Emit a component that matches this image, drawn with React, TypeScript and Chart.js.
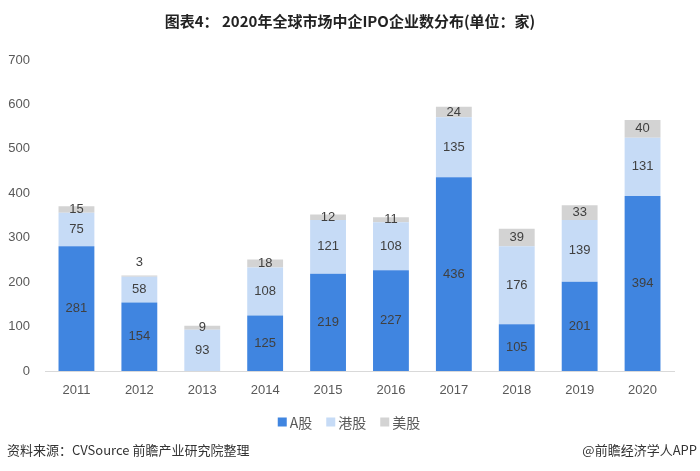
import React, { useEffect, useRef } from "react";
import { Chart, registerables } from "chart.js";

Chart.register(...registerables);

const years = ["2011", "2012", "2013", "2014", "2015", "2016", "2017", "2018", "2019", "2020"];
const aShares = [281, 154, 0, 125, 219, 227, 436, 105, 201, 394];
const hkShares = [75, 58, 93, 108, 121, 108, 135, 176, 139, 131];
const usShares = [15, 3, 9, 18, 12, 11, 24, 39, 33, 40];
const seriesNames = ["A股", "港股", "美股"];
const yTicks = [0, 100, 200, 300, 400, 500, 600, 700];

const titleText = "图表4： 2020年全球市场中企IPO企业数分布(单位：家)";
const sourceText = "资料来源：CVSource 前瞻产业研究院整理";
const brandText = "@前瞻经济学人APP";

const colors = ["#4085e0", "#c6dbf6", "#d3d3d3"];
const FONT = "'Liberation Sans', 'Noto Sans CJK SC', sans-serif";
const CJK = "'Noto Sans CJK SC', 'Liberation Sans', sans-serif";

const decorPlugin = {
  id: "decor",
  afterDatasetsDraw(chart: any) {
    const ctx = chart.ctx;
    // value labels
    ctx.save();
    ctx.font = `13px ${FONT}`;
    ctx.fillStyle = "#404040";
    ctx.textAlign = "center";
    ctx.textBaseline = "middle";
    chart.data.datasets.forEach((ds: any, di: number) => {
      const meta = chart.getDatasetMeta(di);
      meta.data.forEach((bar: any, i: number) => {
        const v = ds.data[i];
        if (!v) return;
        const top = bar.y;
        const bottom = bar.base;
        let y = (top + bottom) / 2;
        if (v < 5) y = top - 13;
        ctx.fillText(String(v), bar.x, y);
      });
    });
    ctx.restore();
  },
  afterDraw(chart: any) {
    const ctx = chart.ctx;
    const W = chart.width;
    ctx.save();
    // title
    ctx.font = `bold 15px ${CJK}`;
    ctx.fillStyle = "#222222";
    ctx.textAlign = "center";
    ctx.textBaseline = "middle";
    ctx.fillText(titleText, 350, 21);
    // legend
    ctx.font = `14px ${CJK}`;
    ctx.textAlign = "left";
    const box = 9;
    const gap = 3;
    const itemGap = 14;
    const widths = seriesNames.map((n) => box + gap + ctx.measureText(n).width);
    const total = widths.reduce((a, b) => a + b, 0) + itemGap * (seriesNames.length - 1);
    let x = 349 - total / 2;
    const ly = 422;
    seriesNames.forEach((n, i) => {
      ctx.fillStyle = colors[i];
      ctx.fillRect(x, ly - box / 2, box, box);
      ctx.fillStyle = "#595959";
      ctx.fillText(n, x + box + gap, ly + 1);
      x += widths[i] + itemGap;
    });
    // footer
    ctx.font = `13px ${CJK}`;
    ctx.fillStyle = "#333333";
    ctx.textAlign = "left";
    ctx.fillText(sourceText, 7, 450);
    ctx.textAlign = "right";
    ctx.fillText(brandText, 697, 450);
    ctx.restore();
  },
};

export default function App() {
  const ref = useRef<HTMLCanvasElement>(null);
  useEffect(() => {
    document.body.style.margin = "0";
    const chart = new Chart(ref.current!, {
      type: "bar",
      data: {
        labels: years,
        datasets: [
          { label: seriesNames[0], data: aShares, backgroundColor: colors[0] },
          { label: seriesNames[1], data: hkShares, backgroundColor: colors[1] },
          { label: seriesNames[2], data: usShares, backgroundColor: colors[2] },
        ],
      },
      options: {
        responsive: false,
        animation: false,
        layout: { padding: { top: 60, right: 26, bottom: 0, left: 0 } },
        datasets: { bar: { barPercentage: 0.57, categoryPercentage: 1 } },
        plugins: {
          legend: { display: false },
          title: { display: false },
          tooltip: { enabled: false },
        },
        scales: {
          x: {
            stacked: true,
            grid: { display: false, drawTicks: false },
            border: { display: true, color: "#d9d9d9", width: 1 },
            ticks: {
              color: "#595959",
              font: { size: 13, family: FONT },
              padding: 12,
            },
            afterFit(scale: any) {
              scale.height = 100;
            },
          },
          y: {
            stacked: true,
            min: 0,
            max: 700,
            afterBuildTicks(scale: any) {
              scale.ticks = yTicks.map((v) => ({ value: v }));
            },
            grid: { display: false, drawTicks: false },
            border: { display: false },
            ticks: {
              color: "#595959",
              font: { size: 13, family: FONT },
              padding: 15,
            },
            afterFit(scale: any) {
              scale.width = 45;
            },
          },
        },
      },
      plugins: [decorPlugin],
    });
    return () => chart.destroy();
  }, []);
  return (
    <div style={{ position: "absolute", left: 0, top: 0, width: 700, height: 471, background: "#fff" }}>
      <canvas ref={ref} width={700} height={471} />
    </div>
  );
}
